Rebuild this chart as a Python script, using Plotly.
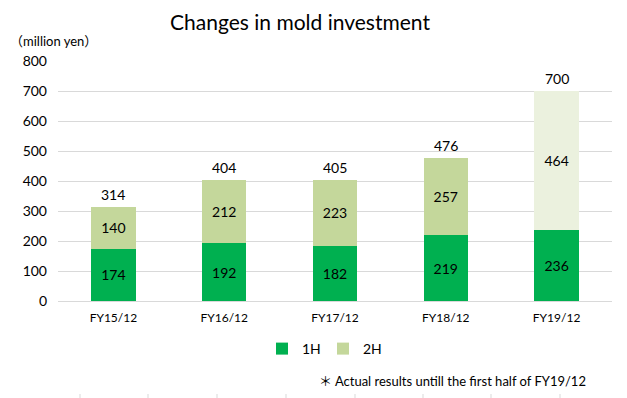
import plotly.graph_objects as go

categories = ["FY15/12", "FY16/12", "FY17/12", "FY18/12", "FY19/12"]
first_half = [174, 192, 182, 219, 236]
second_half = [140, 212, 223, 257, 464]
totals = [314, 404, 405, 476, 700]
y_ticks = [0, 100, 200, 300, 400, 500, 600, 700, 800]

c1 = "#00B050"
c2 = "#C4D79B"
c2_plan = "#EBF1DE"
font_family = "Lato, 'Noto Sans CJK JP', sans-serif"

# the page body adds an 8px margin, so the figure is 8px smaller
W, H = 619, 390
ML, MR, MT, MB = 50, 15, 53, 97
PW, PH = W - ML - MR, H - MT - MB

fig = go.Figure()
fig.add_trace(go.Bar(
    x=categories, y=first_half, name="1H",
    marker=dict(color=c1, line=dict(width=0)),
    text=[str(v) for v in first_half], textposition="inside",
    insidetextanchor="middle", textfont=dict(size=14, color="black"),
    width=0.4,
))
fig.add_trace(go.Bar(
    x=categories, y=second_half, name="2H",
    marker=dict(color=[c2] * (len(categories) - 1) + [c2_plan], line=dict(width=0)),
    text=[str(v) for v in second_half], textposition="inside",
    insidetextanchor="middle", textfont=dict(size=14, color="black"),
    width=0.4,
))

for c, t in zip(categories, totals):
    fig.add_annotation(x=c, y=t, text=str(t), showarrow=False,
                       yanchor="bottom", yshift=2,
                       font=dict(size=14, color="black", family=font_family))

fig.add_annotation(xref="paper", yref="paper", x=-ML / PW, y=1 + 20 / PH,
                   xanchor="left", yanchor="middle", text="（million yen）",
                   showarrow=False, font=dict(size=13, color="black", family=font_family))
fig.add_annotation(xref="paper", yref="paper", x=(588 - 58) / PW, y=-(381 - 301) / PH,
                   xanchor="right", yanchor="middle",
                   text="＊ Actual results untill the first half of FY19/12",
                   showarrow=False, font=dict(size=13, color="black", family=font_family))

# faint cell-border ticks at the bottom edge
for px in [80, 148, 217, 286, 355, 423, 491, 560]:
    xp = (px - 58) / PW
    fig.add_shape(type="line", xref="paper", yref="paper", x0=xp, x1=xp,
                  y0=-(394 - 301) / PH, y1=-(400 - 301) / PH,
                  line=dict(color="#d9d9d9", width=1))

fig.update_layout(
    width=W, height=H,
    margin=dict(l=ML, r=MR, t=MT, b=MB),
    barmode="stack",
    plot_bgcolor="white", paper_bgcolor="white",
    font=dict(family=font_family, color="black"),
    title=dict(text="Changes in mold investment", x=(300 - 8) / W, xanchor="center",
               y=1 - 15 / H, yanchor="middle", font=dict(size=21, color="black")),
    showlegend=True,
    legend=dict(orientation="h", x=(323 - 58) / PW, xanchor="center",
                y=-(349 - 301) / PH, yanchor="middle",
                font=dict(size=14), traceorder="normal", itemwidth=30,
                entrywidth=16, entrywidthmode="pixels"),
    xaxis=dict(showgrid=False, showline=True, linecolor="#d9d9d9", ticks="",
               tickfont=dict(size=12), fixedrange=True, ticklabelstandoff=6),
    yaxis=dict(range=[0, 800], tickvals=y_ticks, showgrid=True, gridcolor="#d9d9d9",
               zeroline=False, showline=False, ticks="", tickfont=dict(size=14),
               ticklabelstandoff=10),
    bargap=0.6,
)

fig.write_html("out.html")
